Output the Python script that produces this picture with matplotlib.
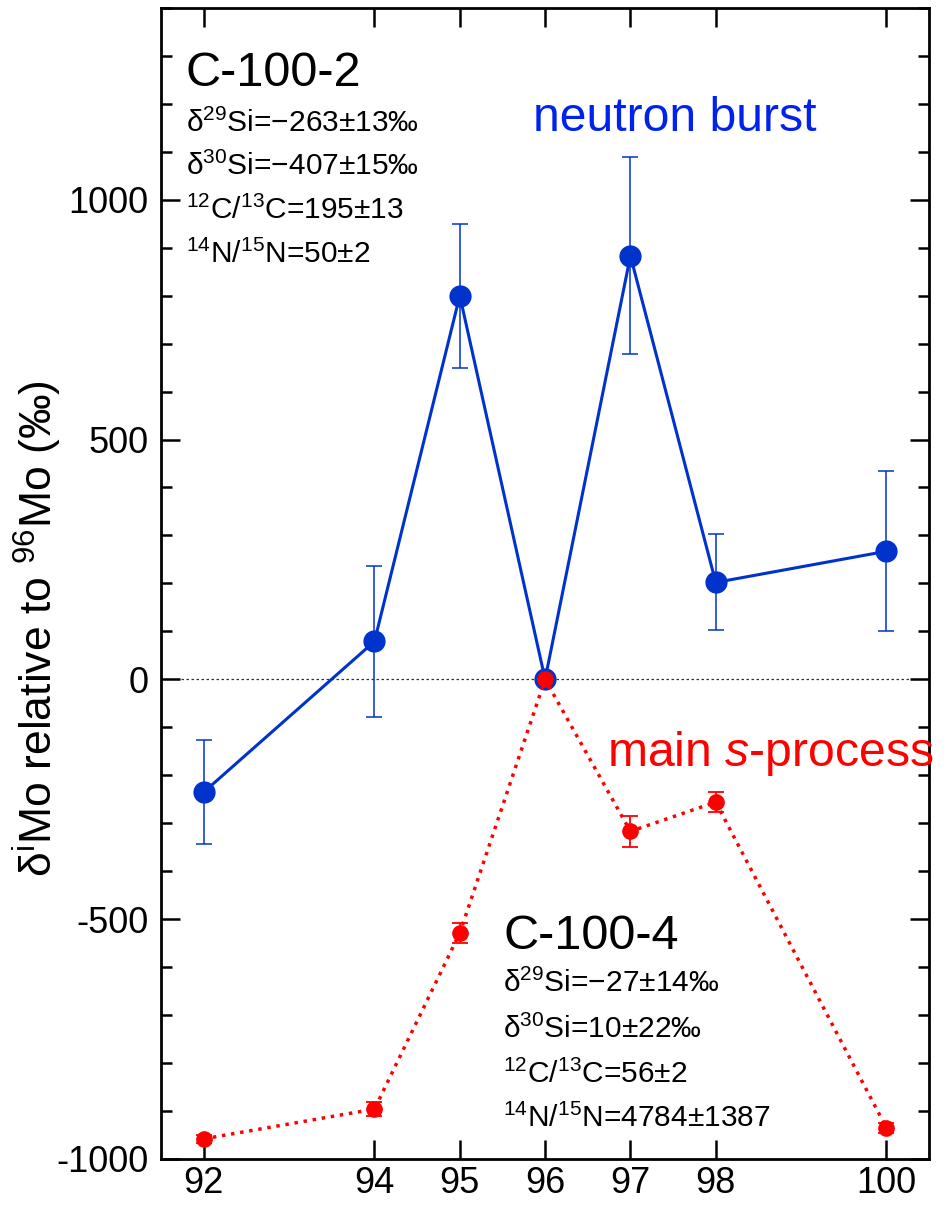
import matplotlib
matplotlib.use('Agg')
import matplotlib.pyplot as plt
from matplotlib.ticker import MultipleLocator

plt.rcParams['font.family'] = ['Liberation Sans', 'DejaVu Sans']
plt.rcParams['mathtext.fontset'] = 'custom'
plt.rcParams['mathtext.rm'] = 'Liberation Sans'
plt.rcParams['mathtext.it'] = 'Liberation Sans:italic'
plt.rcParams['axes.unicode_minus'] = False

# isotopes (mass numbers)
mass = [92, 94, 95, 96, 97, 98, 100]

# C-100-2 (neutron burst)
burst = [-235, 79, 800, 0, 883, 202, 267]
burst_err = [108, 158, 150, 0, 205, 100, 167]

# C-100-4 (main s-process)
main_s = [-958, -896, -529, 0, -317, -256, -935]
main_s_err = [8, 15, 20, 0, 33, 21, 10]

blue = '#0033cc'
red = '#ff0000'

fig = plt.figure(figsize=(9.48, 12.06), dpi=100)
ax = fig.add_axes([0.170, 0.039, 0.810, 0.9545])

ax.axhline(0, color='#333333', ls=(0, (2, 2)), lw=0.9, zorder=1)

ax.errorbar(mass, burst, yerr=burst_err, color=blue, lw=2.2, marker='o', ms=15,
            ecolor=blue, elinewidth=1.1, capsize=6, capthick=1.1, zorder=3)
ax.errorbar(mass, main_s, yerr=main_s_err, color=red, lw=2.5, ls=':', marker='o', ms=11,
            ecolor=red, elinewidth=1.3, capsize=6, capthick=1.3, zorder=4)

ax.set_xlim(91.5, 100.5)
ax.set_ylim(-1000, 1400)
ax.set_xticks(mass)
ax.yaxis.set_major_locator(MultipleLocator(500))
ax.yaxis.set_minor_locator(MultipleLocator(100))
ax.set_yticks([-1000, -500, 0, 500, 1000])

ax.tick_params(which='both', direction='in', top=True, right=True, width=1.8, labelsize=26)
ax.tick_params(which='major', length=14, pad=9)
ax.tick_params(which='minor', length=8)
ax.tick_params(axis='x', pad=5)
for s in ax.spines.values():
    s.set_linewidth(2)

ax.set_ylabel(r'δ$^{\mathrm{i}}$Mo relative to $^{96}$Mo (‰)', fontsize=32)
ax.yaxis.set_label_coords(-0.127, 0.461)

# sample info
ax.text(91.79, 1237, 'C-100-2', fontsize=35, va='baseline')
info2 = [r'δ$^{29}$Si=−263±13‰', r'δ$^{30}$Si=−407±15‰',
         r'$^{12}$C/$^{13}$C=195±13', r'$^{14}$N/$^{15}$N=50±2']
for i, t in enumerate(info2):
    ax.text(91.79, 1142 - 91 * i, t, fontsize=21.5, va='baseline')

ax.text(95.51, -563, 'C-100-4', fontsize=35, va='baseline')
info4 = [r'δ$^{29}$Si=−27±14‰', r'δ$^{30}$Si=10±22‰',
         r'$^{12}$C/$^{13}$C=56±2', r'$^{14}$N/$^{15}$N=4784±1387']
yy = [-652, -748, -842, -933]
for t, y in zip(info4, yy):
    ax.text(95.51, y, t, fontsize=21.5, va='baseline')

ax.text(95.86, 1144, 'neutron burst', fontsize=34.7, color='#0022ee', va='baseline')
ax.text(96.73, -181, r'main $s$-process', fontsize=34.7, color=red, va='baseline')

fig.savefig('out.png', dpi=100)
